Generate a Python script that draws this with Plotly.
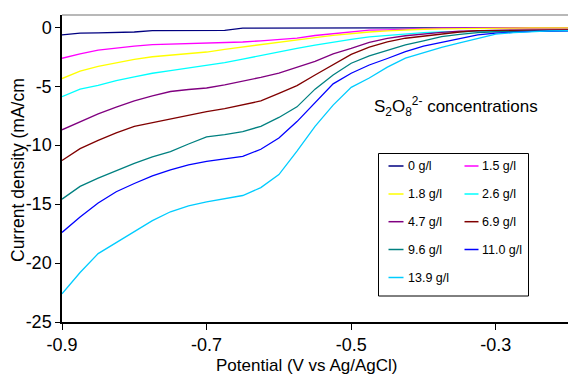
import plotly.graph_objects as go

# ---------------- data ----------------
potential = [-0.9, -0.875, -0.85, -0.825, -0.8, -0.775, -0.75, -0.725, -0.7, -0.675,
             -0.65, -0.625, -0.6, -0.575, -0.55, -0.525, -0.5, -0.475, -0.45, -0.425,
             -0.4, -0.375, -0.35, -0.325, -0.3, -0.275, -0.25, -0.225, -0.2]

conc_labels = ["0 g/l", "1.5 g/l", "1.8 g/l", "2.6 g/l", "4.7 g/l",
               "6.9 g/l", "9.6 g/l", "11.0 g/l", "13.9 g/l"]
colors = ["#000080", "#FF00FF", "#FFFF00", "#00FFFF", "#800080",
          "#800000", "#008080", "#0000FF", "#00CCFF"]

j_0_0 = [-0.65, -0.5, -0.48, -0.46, -0.4, -0.29, -0.29, -0.29, -0.29, -0.27,
         -0.08, -0.07, -0.07, -0.07, -0.07, -0.07, -0.07, -0.06, -0.06, -0.06,
         -0.06, -0.06, -0.05, -0.05, -0.05, -0.05, -0.05, -0.05, -0.05]
j_1_5 = [-2.63, -2.25, -1.94, -1.76, -1.6, -1.47, -1.42, -1.37, -1.36, -1.33,
         -1.25, -1.15, -1.05, -0.92, -0.7, -0.56, -0.45, -0.25, -0.22, -0.15,
         -0.08, -0.07, -0.07, -0.06, -0.06, -0.06, -0.06, -0.05, -0.05]
j_1_8 = [-4.35, -3.72, -3.32, -3.0, -2.72, -2.5, -2.35, -2.25, -2.1, -1.87,
         -1.66, -1.45, -1.27, -1.08, -0.87, -0.68, -0.51, -0.4, -0.3, -0.22,
         -0.17, -0.13, -0.1, -0.08, -0.07, -0.07, -0.06, -0.06, -0.05]
j_2_6 = [-5.88, -5.25, -4.93, -4.52, -4.2, -3.9, -3.68, -3.47, -3.27, -3.0,
         -2.7, -2.38, -2.08, -1.8, -1.52, -1.25, -1.02, -0.82, -0.68, -0.55,
         -0.45, -0.4, -0.37, -0.35, -0.33, -0.31, -0.3, -0.29, -0.28]
j_4_7 = [-8.7, -8.0, -7.35, -6.78, -6.25, -5.82, -5.45, -5.28, -5.15, -4.88,
         -4.58, -4.25, -3.9, -3.43, -2.9, -2.25, -1.8, -1.28, -0.95, -0.72,
         -0.55, -0.43, -0.33, -0.28, -0.26, -0.25, -0.24, -0.23, -0.22]
j_6_9 = [-11.3, -10.3, -9.6, -8.95, -8.4, -8.08, -7.82, -7.5, -7.15, -6.9,
         -6.6, -6.25, -5.6, -4.95, -4.05, -3.2, -2.3, -1.68, -1.24, -0.93,
         -0.75, -0.56, -0.4, -0.29, -0.27, -0.26, -0.24, -0.23, -0.22]
j_9_6 = [-14.58, -13.5, -12.8, -12.15, -11.55, -11.0, -10.55, -9.9, -9.3, -9.1,
         -8.85, -8.4, -7.65, -6.75, -5.25, -4.05, -3.05, -2.42, -1.94, -1.5,
         -1.15, -0.8, -0.6, -0.45, -0.38, -0.34, -0.32, -0.3, -0.29]
j_11_0 = [-17.4, -16.1, -14.9, -13.95, -13.25, -12.6, -12.1, -11.68, -11.38, -11.18,
          -10.95, -10.35, -9.4, -8.0, -6.4, -4.8, -3.9, -3.2, -2.65, -2.07,
          -1.6, -1.28, -1.02, -0.65, -0.5, -0.4, -0.35, -0.32, -0.3]
j_13_9 = [-22.6, -20.8, -19.2, -18.25, -17.3, -16.4, -15.65, -15.15, -14.82, -14.57,
          -14.27, -13.6, -12.5, -10.5, -8.4, -6.6, -5.1, -4.3, -3.38, -2.62,
          -2.13, -1.7, -1.32, -0.95, -0.58, -0.45, -0.35, -0.3, -0.29]

series = [j_0_0, j_1_5, j_1_8, j_2_6, j_4_7, j_6_9, j_9_6, j_11_0, j_13_9]

x_ticks = [-0.9, -0.7, -0.5, -0.3]
y_ticks = [0, -5, -10, -15, -20, -25]

# ---------------- layout geometry ----------------
W, H = 568, 374
L, R, T, B = 62, 0, 15, 52
PW, PH = W - L - R, H - T - B
FONT = "Arial, Liberation Sans, sans-serif"


def px_x(px):
    return (px - L) / PW


def px_y(py):
    return (H - B - py) / PH


fig = go.Figure()
for name, col, ys in zip(conc_labels, colors, series):
    fig.add_trace(go.Scatter(x=potential, y=ys, mode="lines", name=name,
                             line=dict(color=col, width=1.3), showlegend=False))

shapes = []
annotations = []

# top frame line (grey)
shapes.append(dict(type="line", xref="paper", yref="paper", x0=0, x1=1, y0=1, y1=1,
                   line=dict(color="#A0A0A0", width=1.5)))

# legend box
shapes.append(dict(type="rect", xref="paper", yref="paper",
                   x0=px_x(378.5), x1=px_x(528.5), y0=px_y(296), y1=px_y(153.5),
                   line=dict(color="black", width=1), fillcolor="white", layer="above"))
col_line_x = [(388.5, 403.5), (464.5, 478.5)]
col_text_x = [405.5, 480]
row_y = [166, 194, 221.7, 249.5, 277.5]
for i, (name, col) in enumerate(zip(conc_labels, colors)):
    c, r = i % 2, i // 2
    yy = px_y(row_y[r])
    shapes.append(dict(type="line", xref="paper", yref="paper",
                       x0=px_x(col_line_x[c][0]), x1=px_x(col_line_x[c][1]), y0=yy, y1=yy,
                       line=dict(color=col, width=1.5), layer="above"))
    annotations.append(dict(text=name, xref="paper", yref="paper", x=px_x(col_text_x[c]), y=yy,
                            xanchor="left", yanchor="middle", showarrow=False,
                            font=dict(family=FONT, size=12.5, color="black")))

# series annotation
annotations.append(dict(text="S<sub>2</sub>O<sub>8</sub><sup>2-</sup> concentrations",
                        xref="paper", yref="paper", x=px_x(372), y=px_y(106),
                        xanchor="left", yanchor="middle", showarrow=False,
                        font=dict(family=FONT, size=17, color="black")))
# axis titles
annotations.append(dict(text="Potential (V vs Ag/AgCl)", xref="paper", yref="paper",
                        x=px_x(306), y=px_y(365), xanchor="center", yanchor="middle",
                        showarrow=False, font=dict(family=FONT, size=17, color="black")))
annotations.append(dict(text="Current density (mA/cm", xref="paper", yref="paper",
                        x=px_x(18), y=px_y(170), xanchor="center", yanchor="middle",
                        textangle=-90, showarrow=False,
                        font=dict(family=FONT, size=17.5, color="black")))

fig.update_layout(
    width=W, height=H,
    margin=dict(l=L, r=R, t=T, b=B),
    paper_bgcolor="white", plot_bgcolor="white",
    font=dict(family=FONT, size=18, color="black"),
    shapes=shapes, annotations=annotations,
    xaxis=dict(range=[-0.9, -0.9 + 0.6 * PW / (495.8 - L)], tickmode="array",
               tickvals=x_ticks, ticktext=[f"{v:.1f}" for v in x_ticks],
               ticks="outside", ticklen=6, tickcolor="black", showline=True,
               linecolor="black", linewidth=1.5, showgrid=False, zeroline=False,
               tickfont=dict(size=18)),
    yaxis=dict(range=[-25, 1.04], tickmode="array", tickvals=y_ticks,
               ticktext=[str(v) for v in y_ticks], ticks="outside", ticklen=5,
               tickcolor="black", showline=True, linecolor="black", linewidth=1.5,
               showgrid=False, zeroline=False, tickfont=dict(size=18)),
)

fig.write_html("out.html", config={"displayModeBar": False},
               post_script="document.body.style.margin='0';")
